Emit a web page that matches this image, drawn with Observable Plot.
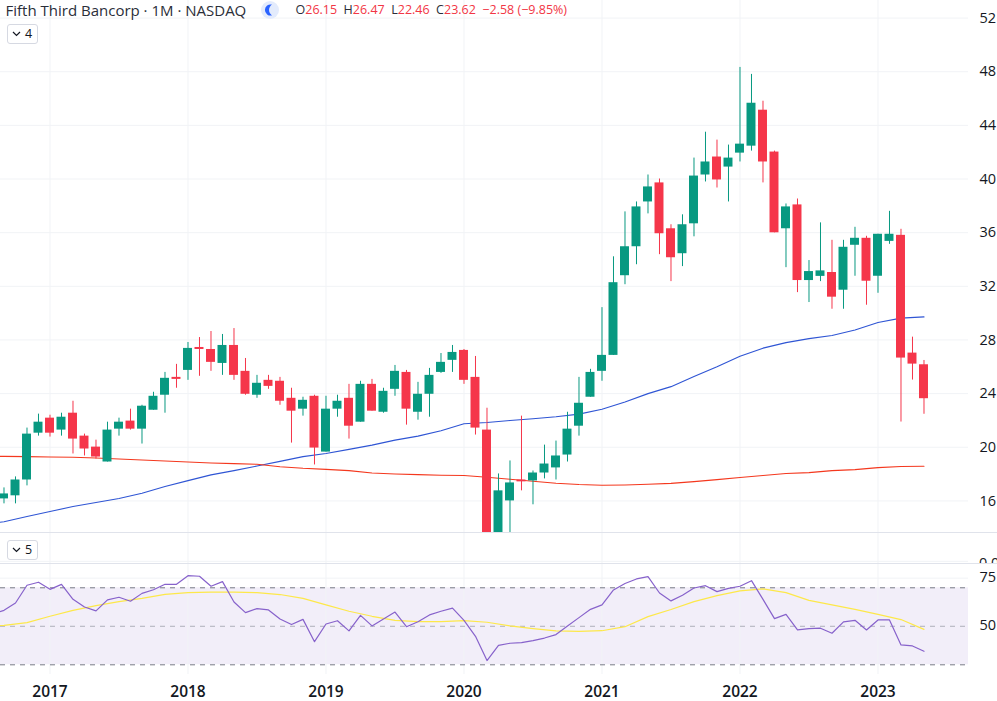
<!DOCTYPE html>
<html><head><meta charset="utf-8">
<script src="https://cdn.jsdelivr.net/npm/d3@7"></script>
<script src="https://cdn.jsdelivr.net/npm/@observablehq/plot@0.6"></script>
<style>
html,body{margin:0;padding:0;background:#fff;width:997px;height:701px;overflow:hidden;font-family:"Open Sans",sans-serif;color:#131722}
#wrap{position:relative;width:997px;height:701px;overflow:hidden}
.pane{position:absolute;left:0}
.pane svg{display:block;background:transparent}
.hline{position:absolute;left:0;height:1px;background:#e0e3eb}
.t{position:absolute;white-space:nowrap;line-height:20px;height:20px}
.btn{position:absolute;left:6.5px;width:29px;height:18px;border:1px solid #d6d9e2;border-radius:3px;background:#fff;font-size:12.5px;line-height:18px;text-align:center}
.btn svg{vertical-align:1px;margin-right:4px}
.r{color:#f23645}
</style></head><body><div id="wrap"></div>
<script>
const opens =[16.15,16.38,17.56,21.05,22.17,21.28,22.54,20.83,20.01,18.9,21.35,21.95,21.35,22.76,23.88,25.21,25.73,27.44,27.29,26.25,27.59,25.66,23.88,24.99,24.92,23.65,22.84,23.8,19.64,22.84,23.65,21.87,24.69,22.61,24.32,25.58,22.61,23.95,25.58,26.48,27.22,25.21,21.28,13.0,16.0,17.56,17.49,18.08,18.46,19.42,21.57,23.73,25.66,26.85,32.79,34.95,38.29,39.71,36.29,34.43,36.66,40.3,41.64,40.89,41.93,42.45,45.13,42.01,36.29,38.07,32.43,32.74,33.03,31.71,35.06,35.58,32.75,35.35,35.8,27.02,26.15];
const highs =[16.97,17.79,21.43,22.47,22.39,22.54,23.43,20.98,20.53,21.87,22.17,22.84,23.13,24.1,25.58,26.18,27.81,28.18,28.63,28.41,28.85,26.62,25.36,25.36,25.21,24.4,23.73,23.88,23.8,23.88,24.69,24.92,25.06,24.4,26.1,25.73,24.84,25.88,26.99,27.59,27.29,26.77,22.91,18.01,18.98,22.32,18.23,20.16,20.46,22.61,25.21,25.81,30.41,34.2,37.55,38.29,40.3,40.0,36.59,37.33,41.56,43.49,42.9,42.53,48.32,47.8,45.8,42.08,38.14,38.51,33.92,36.73,35.43,35.43,36.4,35.73,35.88,37.59,36.25,28.21,26.47];
const lows  =[15.78,15.78,17.12,20.83,20.76,20.83,19.5,19.35,19.12,18.9,20.83,21.28,20.24,22.76,22.54,24.4,24.99,25.29,25.66,25.36,24.99,23.88,23.65,24.32,23.13,20.31,22.32,18.68,19.64,22.24,20.61,21.87,22.69,22.54,23.8,21.65,22.02,22.24,25.51,25.58,24.69,20.91,11.0,12.0,13.5,16.75,15.71,17.64,17.56,18.9,20.83,23.73,24.92,26.85,32.12,33.61,37.4,34.36,32.35,33.47,35.69,39.78,39.33,38.29,41.27,42.08,39.71,35.99,33.39,31.53,30.79,32.35,30.29,30.29,32.75,30.59,31.48,35.13,21.88,25.01,22.46];
const closes=[16.52,17.56,20.98,21.87,21.05,22.24,20.61,19.87,19.27,21.28,21.87,21.35,23.06,23.8,25.14,25.06,27.37,27.29,26.33,27.59,25.36,23.95,24.77,24.54,23.43,22.69,23.5,19.94,22.84,23.43,21.57,24.69,22.69,24.17,25.66,22.84,23.95,25.36,26.33,27.07,24.99,21.43,13.0,16.75,17.34,17.42,18.08,18.75,19.35,21.35,23.28,25.58,26.85,32.27,34.95,37.92,39.41,35.92,34.13,36.59,40.22,41.27,39.93,41.56,42.6,45.65,41.27,35.99,37.92,32.43,33.1,33.15,31.19,34.91,35.58,32.38,35.88,35.88,26.65,26.2,23.62];
// moving averages and the RSI signal, read every second month starting two months before the first candle
const blueMA=[14.2,14.45,14.84,15.21,15.58,15.88,16.18,16.57,17.07,17.51,17.94,18.26,18.6,18.95,19.3,19.54,19.84,20.16,20.53,20.83,21.23,21.75,21.85,22.0,22.12,22.27,22.47,22.84,23.38,24.0,24.52,25.27,26.0,26.78,27.39,27.8,28.1,28.33,28.74,29.3,29.63,29.72];
const redMA =[19.33,19.32,19.3,19.27,19.25,19.2,19.12,19.05,18.97,18.9,18.83,18.78,18.73,18.55,18.43,18.35,18.26,18.08,18.01,17.96,17.91,17.89,17.76,17.61,17.47,17.32,17.22,17.17,17.19,17.24,17.31,17.44,17.59,17.74,17.89,18.04,18.11,18.26,18.33,18.48,18.56,18.58];
// RSI starts one month before the first candle
const rsi=[56.5,58.3,62.1,71.3,72.9,69.2,71.8,64.0,60.0,58.0,63.7,65.1,63.0,67.1,69.0,71.8,71.8,76.3,76.0,70.8,73.2,62.6,57.1,59.2,58.5,53.8,50.9,53.6,42.0,51.2,52.9,47.6,55.7,50.2,53.8,57.4,49.8,52.4,55.9,57.8,59.4,53.1,44.8,32.2,40.1,41.2,41.5,42.6,43.9,45.7,50.2,54.5,58.8,61.1,68.9,72.2,74.6,75.8,67.3,63.2,66.1,69.9,71.1,68.0,69.7,70.8,73.7,64.0,54.0,56.2,48.1,48.8,49.0,46.4,52.3,53.1,48.1,53.3,53.3,40.3,39.8,37.0];
const rsiSignal=[50.0,50.5,51.9,55.2,58.3,60.7,62.8,64.5,66.6,67.5,67.7,67.7,67.5,66.5,64.5,61.1,57.8,55.2,53.1,52.4,52.4,52.9,52.1,50.2,48.8,47.6,47.4,47.7,49.8,55.0,58.7,62.8,65.9,68.4,69.4,67.5,63.5,61.1,58.8,56.2,53.5,48.4];
const yearLabels=["2017","2018","2019","2020","2021","2022","2023"];
const yearTicks=[4,16,28,40,52,64,76];
const priceTicks=[16,20,24,28,32,36,40,44,48,52];
const rsiTicks=[50,75];
const rsiLevels=[70,50,30];

const GREEN="#089981",RED="#f5364a",GRID="#f1f3f6",W=997;
const xDomain=[-0.3043,83.87];
const candles=opens.map((o,i)=>({i,open:o,high:highs[i],low:lows[i],close:closes[i],dir:closes[i]>=o?"up":"down"}));
const byTwo=v=>v.map((value,k)=>({i:k*2-2,value}));
const wrap=document.getElementById("wrap");
function place(el,top){const d=document.createElement("div");d.className="pane";d.style.top=top+"px";d.append(el);wrap.append(d);}
const vgrid=Plot.ruleX(yearTicks,{stroke:GRID,strokeWidth:1});
const common={width:W,marginLeft:0,marginRight:29,x:{domain:xDomain,axis:null}};
const styleOpt={fontFamily:'"Open Sans",sans-serif',fontSize:"14.5px",color:"#131722",background:"transparent"};

const main=Plot.plot({...common,height:533,marginTop:0,marginBottom:0,style:styleOpt,
  y:{domain:[13.57,53.31],axis:null},
  color:{domain:["up","down"],range:[GREEN,RED]},
  marks:[
    Plot.ruleY(priceTicks,{stroke:GRID,strokeWidth:1}),
    vgrid,
    Plot.axisY(priceTicks,{anchor:"right",tickSize:0,tickPadding:11,label:null,fill:"#131722",fontSize:14.5}),
    Plot.line(byTwo(blueMA),{x:"i",y:"value",stroke:"#2f55d4",strokeWidth:1.1,curve:"linear",clip:true}),
    Plot.line(byTwo(redMA),{x:"i",y:"value",stroke:"#f4381e",strokeWidth:1.1,curve:"linear",clip:true}),
    Plot.ruleX(candles,{x:"i",y1:"low",y2:"high",stroke:"dir",strokeWidth:1,clip:true}),
    Plot.rect(candles,{x1:d=>d.i-0.39,x2:d=>d.i+0.39,y1:"open",y2:"close",fill:"dir",clip:true})
  ]});
place(main,0);

const gap=Plot.plot({...common,height:31,marginTop:0,marginBottom:0,style:styleOpt,
  y:{domain:[1,0],axis:null},
  marks:[vgrid,Plot.ruleY([0.93],{stroke:GRID})]});
place(gap,532);

const low=Plot.plot({...common,height:138,marginTop:0,marginBottom:27,style:styleOpt,
  y:{domain:[24.96,82.62],axis:null},
  marks:[
    Plot.rectY([0],{x1:xDomain[0],x2:xDomain[1],y1:30,y2:70,fill:"#7e57c2",fillOpacity:0.1}),
    Plot.ruleY([75],{stroke:GRID}),
    vgrid,
    Plot.ruleY(rsiLevels,{stroke:"#787b86",strokeWidth:1,strokeDasharray:"5,5",strokeOpacity:d=>d===50?0.55:1}),
    Plot.axisY(rsiTicks,{anchor:"right",tickSize:0,tickPadding:11,label:null,fill:"#131722",fontSize:14.5,dy:-1}),
    Plot.axisX(yearTicks,{anchor:"bottom",tickSize:0,tickPadding:11,label:null,tickFormat:(d,k)=>yearLabels[k],fontWeight:600,fontSize:15.5,fill:"#131722"}),
    Plot.line(byTwo(rsiSignal),{x:"i",y:"value",stroke:"#fde84a",strokeWidth:1.2,clip:true}),
    Plot.line(rsi.map((value,k)=>({i:k-1,value})),{x:"i",y:"value",stroke:"#8762cb",strokeWidth:1.2,clip:true})
  ]});
place(low,563);

function hl(top){const d=document.createElement("div");d.className="hline";d.style.top=top+"px";d.style.width=W+"px";wrap.append(d);}
hl(532);hl(563);

function txt(x,y,html,size,extra){const s=document.createElement("div");s.className="t";s.style.left=x+"px";s.style.top=y+"px";s.style.fontSize=size+"px";if(extra)s.style.cssText+=extra;s.innerHTML=html;wrap.append(s);}
txt(5.5,0,"Fifth Third Bancorp · 1M · NASDAQ",15,"color:#2a2e39");
txt(295.5,0,'O<span class="r">26.15</span>&nbsp;&nbsp;H<span class="r">26.47</span>&nbsp;&nbsp;L<span class="r">22.46</span>&nbsp;&nbsp;C<span class="r">23.62</span>&nbsp;&nbsp;<span class="r">−2.58 (−9.85%)</span>',12.5,"color:#2a2e39");
// theme moon badge
const moon=document.createElement("div");
moon.style.cssText="position:absolute;left:261px;top:1px;width:18px;height:18px";
moon.innerHTML='<svg width="18" height="18" viewBox="0 0 18 18"><circle cx="9" cy="9" r="9" fill="#e3ebfc"/><path d="M11 3.6a5.6 5.6 0 1 0 0 10.8a6.4 6.4 0 0 1 0 -10.8z" fill="#2962ff"/></svg>';
wrap.append(moon);
const chev='<svg width="9" height="6" viewBox="0 0 9 6"><path d="M1 1l3.5 3.5L8 1" fill="none" stroke="#131722" stroke-width="1.2"/></svg>';
[[23.5,"4"],[539.5,"5"]].forEach(([top,n])=>{const b=document.createElement("div");b.className="btn";b.style.top=top+"px";b.innerHTML=chev+n;wrap.append(b);});
// clipped axis label of the collapsed pane
const zero=document.createElement("div");
zero.style.cssText="position:absolute;left:979px;top:553px;width:18px;height:10px;overflow:hidden;font-size:14.5px;line-height:19px;color:#131722";
zero.textContent="0.0";wrap.append(zero);
</script></body></html>
